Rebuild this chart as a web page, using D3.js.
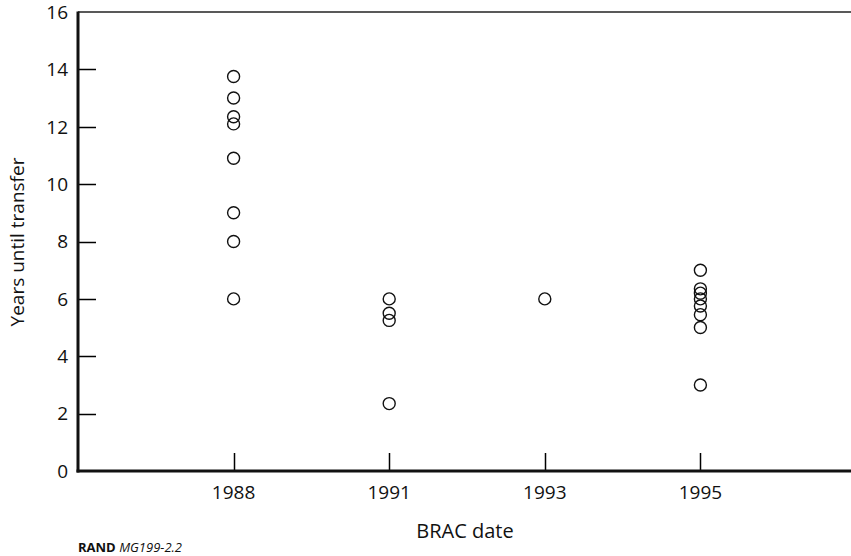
<!DOCTYPE html>
<html>
<head>
<meta charset="utf-8">
<script src="https://cdn.jsdelivr.net/npm/d3@7"></script>
<style>
  body { margin: 0; background: #fff; }
  svg { display: block; }
  text { font-family: "Open Sans", "Noto Sans", sans-serif; fill: #111; }
</style>
</head>
<body>
<div id="chart"></div>
<script>
// BRAC rounds on the x axis
const bracDates = ["1988", "1991", "1993", "1995"];

// years until transfer, one list per BRAC round
const years1988 = [13.75, 13.0, 12.35, 12.1, 10.9, 9.0, 8.0, 6.0];
const years1991 = [6.0, 5.5, 5.25, 2.35];
const years1993 = [6.0];
const years1995 = [7.0, 6.35, 6.2, 6.0, 5.75, 5.45, 5.0, 3.0];

const yTicks = [0, 2, 4, 6, 8, 10, 12, 14, 16];

const points = [
  ...years1988.map(v => ({ date: "1988", value: v })),
  ...years1991.map(v => ({ date: "1991", value: v })),
  ...years1993.map(v => ({ date: "1993", value: v })),
  ...years1995.map(v => ({ date: "1995", value: v }))
];

const width = 851;
const height = 556;
const plotLeft = 78, plotTop = 12, plotBottom = 471;
const tickLen = 18;

const x = d3.scalePoint()
  .domain(bracDates)
  .range([plotLeft, 856])
  .padding(1);

const y = d3.scaleLinear()
  .domain([0, 16])
  .range([plotBottom, plotTop]);

const svg = d3.select("#chart")
  .append("svg")
  .attr("width", width)
  .attr("height", height);

// top frame line
svg.append("line")
  .attr("x1", plotLeft).attr("x2", width)
  .attr("y1", y(16)).attr("y2", y(16))
  .attr("stroke", "#222")
  .attr("stroke-width", 1.5);

// y ticks point inward
svg.append("path")
  .attr("d", yTicks.filter(d => d > 0 && d < 16)
    .map(d => `M${plotLeft},${Math.round(y(d)) + 0.5}h${tickLen}`).join(""))
  .attr("fill", "none")
  .attr("stroke", "#000")
  .attr("stroke-width", 1.5);

svg.append("g")
  .selectAll("text")
  .data(yTicks)
  .join("text")
  .attr("x", plotLeft - 10)
  .attr("y", d => y(d))
  .attr("dy", "0.36em")
  .attr("text-anchor", "end")
  .style("font-size", "19px")
  .text(d => d);

// x ticks point upward
svg.append("path")
  .attr("d", bracDates
    .map(d => `M${Math.round(x(d)) + 0.5},${plotBottom}v${-tickLen}`).join(""))
  .attr("fill", "none")
  .attr("stroke", "#000")
  .attr("stroke-width", 1.5);

svg.append("g")
  .selectAll("text")
  .data(bracDates)
  .join("text")
  .attr("x", d => x(d))
  .attr("y", plotBottom + 28)
  .attr("text-anchor", "middle")
  .style("font-size", "19px")
  .text(d => d);

// heavy axis lines
svg.append("line")
  .attr("x1", plotLeft).attr("x2", plotLeft)
  .attr("y1", y(16) - 0.5).attr("y2", plotBottom + 1.5)
  .attr("stroke", "#111").attr("stroke-width", 3);
svg.append("line")
  .attr("x1", plotLeft - 1.5).attr("x2", width)
  .attr("y1", plotBottom).attr("y2", plotBottom)
  .attr("stroke", "#111").attr("stroke-width", 3);

// points
svg.append("g")
  .selectAll("circle")
  .data(points)
  .join("circle")
  .attr("cx", d => x(d.date))
  .attr("cy", d => y(d.value))
  .attr("r", 6)
  .attr("fill", "none")
  .attr("stroke", "#111")
  .attr("stroke-width", 1.4);

// axis titles
svg.append("text")
  .attr("transform", `translate(24,242) rotate(-90)`)
  .attr("text-anchor", "middle")
  .style("font-size", "19px")
  .text("Years until transfer");

svg.append("text")
  .attr("x", 465)
  .attr("y", 538)
  .attr("text-anchor", "middle")
  .style("font-size", "20px")
  .text("BRAC date");

// source note
const note = svg.append("text")
  .attr("x", plotLeft)
  .attr("y", 552)
  .style("font-size", "13px");
note.append("tspan").style("font-weight", "bold").text("RAND ");
note.append("tspan").style("font-style", "italic").text("MG199-2.2");
</script>
</body>
</html>
